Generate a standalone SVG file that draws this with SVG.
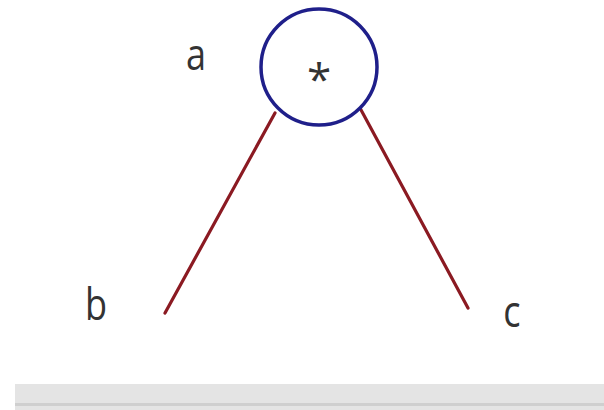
<svg xmlns="http://www.w3.org/2000/svg" width="604" height="410" viewBox="0 0 604 410">
  <style>
    .lbl { font-family: "Open Sans", "DejaVu Sans", sans-serif; font-size: 44px; fill: #333333; }
    .edge { stroke: #8b1a22; stroke-width: 3.2; stroke-linecap: round; fill: none; }
    .node { fill: #ffffff; stroke: #1f1f8a; stroke-width: 3.5; }
  </style>
  <rect x="0" y="0" width="604" height="410" fill="#ffffff"/>
  <g id="connectors">
    <line class="edge" x1="275" y1="113" x2="165" y2="313"/>
    <line class="edge" x1="360" y1="108" x2="468" y2="308"/>
  </g>
  <g id="node-root">
    <circle class="node" cx="319" cy="67" r="58"/>
    <text class="lbl" x="319" y="95" text-anchor="middle">*</text>
  </g>
  <g id="label-a">
    <text class="lbl" x="196" y="70" text-anchor="middle" transform="translate(196 0) scale(0.82 1) translate(-196 0)">a</text>
  </g>
  <g id="label-b">
    <text class="lbl" x="96" y="320" text-anchor="middle" transform="translate(96 0) scale(0.82 1) translate(-96 0)">b</text>
  </g>
  <g id="label-c">
    <text class="lbl" x="512" y="327" text-anchor="middle" transform="translate(512 0) scale(0.82 1) translate(-512 0)">c</text>
  </g>
  <g id="bottom-bar">
    <rect x="15" y="384" width="589" height="26" fill="#e4e4e4"/>
    <rect x="15" y="403" width="589" height="3" fill="#cfcfcf"/>
  </g>
</svg>
